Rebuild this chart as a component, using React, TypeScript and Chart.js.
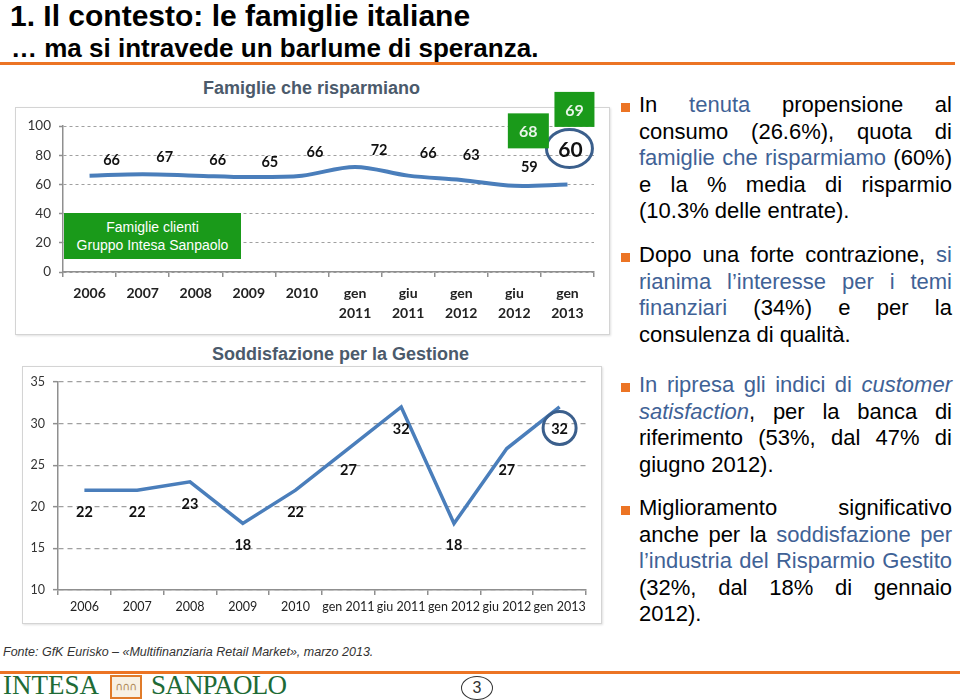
import React, { useEffect, useRef } from "react";
import { Chart, registerables } from "chart.js";

Chart.register(...registerables);

// ---------- DATA ----------
const savingCategories: string[][] = [
  ["2006"], ["2007"], ["2008"], ["2009"], ["2010"],
  ["gen", "2011"], ["giu", "2011"], ["gen", "2012"], ["giu", "2012"], ["gen", "2013"],
];
const savingValues = [66, 67, 66, 65, 66, 72, 66, 63, 59, 60];
const savingTickValues = [0, 20, 40, 60, 80, 100];
const groupClientValues = [68, 69]; // green boxes at giu 2012 and gen 2013

const satisfactionCategories = [
  "2006", "2007", "2008", "2009", "2010",
  "gen 2011", "giu 2011", "gen 2012", "giu 2012", "gen 2013",
];
const satisfactionValues = [22, 22, 23, 18, 22, 27, 32, 18, 27, 32];
const satisfactionTickValues = [10, 15, 20, 25, 30, 35];

// ---------- LAYOUT (label placement, px relative to the point) ----------
const savingLabelOffsets = [
  [22, -16], [22, -18], [22, -16], [21, -16], [13, -24],
  [24, -18], [20, -23], [10, -26], [15, -20], [3, -35],
];
const satisfactionLabelOffsets = satisfactionValues.map(() => [0, 21]);
const groupBoxOffsets = [
  { idx: 8, dx: 14, dy: -55, w: 41, h: 35 },
  { idx: 9, dx: 7, dy: -75, w: 40, h: 35 },
];

const LINE_BLUE = "#4a7ebb";
const CIRCLE_BLUE = "#3b5f8c";
const AXIS_GRAY = "#8f8f8f";
const GRID_GRAY = "#a0a0a0";
const GREEN = "#1a9a1a";
const TEXT_BLUE = "#3f6296";
const ORANGE = "#ec7424";

function makeLabelPlugin(opts: {
  id: string;
  offsets: number[][];
  size: number;
  bigIndex: number;
  bigSize: number;
  circle: { dx: number; dy: number; rx: number; ry: number };
  boxes?: { idx: number; dx: number; dy: number; w: number; h: number }[];
  boxValues?: number[];
}) {
  return {
    id: opts.id,
    afterDatasetsDraw(chart: any) {
      const ctx = chart.ctx;
      const meta = chart.getDatasetMeta(0);
      const values = chart.data.datasets[0].data as number[];
      ctx.save();
      ctx.textAlign = "center";
      ctx.textBaseline = "middle";
      meta.data.forEach((pt: any, i: number) => {
        const [dx, dy] = opts.offsets[i];
        const big = i === opts.bigIndex;
        const x = pt.x + dx;
        const y = pt.y + dy;
        ctx.font = `bold ${big ? opts.bigSize : opts.size}px Lato`;
        ctx.fillStyle = "#111";
        ctx.fillText(String(values[i]), x, y + 1);
        if (big) {
          ctx.strokeStyle = CIRCLE_BLUE;
          ctx.lineWidth = 3;
          ctx.beginPath();
          ctx.ellipse(x + opts.circle.dx, y + opts.circle.dy, opts.circle.rx, opts.circle.ry, 0, 0, Math.PI * 2);
          ctx.stroke();
        }
      });
      if (opts.boxes && opts.boxValues) {
        opts.boxes.forEach((b, k) => {
          const pt = meta.data[b.idx];
          const cx = pt.x + b.dx;
          const cy = pt.y + b.dy;
          ctx.fillStyle = GREEN;
          ctx.fillRect(cx - b.w / 2, cy - b.h / 2, b.w, b.h);
          ctx.fillStyle = "#e8f5e8";
          ctx.font = "bold 16px Lato";
          ctx.fillText(String(opts.boxValues![k]), cx, cy + 1);
        });
      }
      ctx.restore();
    },
  };
}

export default function App() {
  const topRef = useRef<HTMLCanvasElement>(null);
  const botRef = useRef<HTMLCanvasElement>(null);

  useEffect(() => {
    const top = new Chart(topRef.current!, {
      type: "line",
      data: {
        labels: savingCategories as any,
        datasets: [
          {
            data: savingValues,
            borderColor: LINE_BLUE,
            borderWidth: 4,
            pointRadius: 0,
            tension: 0.35,
            fill: false,
          },
        ],
      },
      options: {
        animation: false,
        responsive: false,
        maintainAspectRatio: false,
        layout: { padding: { top: 41, right: 16, left: 0, bottom: 0 } },
        plugins: { legend: { display: false }, tooltip: { enabled: false }, title: { display: false } },
        scales: {
          x: {
            offset: true,
            grid: { offset: true, drawOnChartArea: false, drawTicks: true, tickLength: 5, color: AXIS_GRAY, lineWidth: 1.5 },
            border: { color: AXIS_GRAY, width: 1.5 },
            ticks: {
              color: "#222",
              font: { family: "Lato", weight: "bold", size: 14, lineHeight: 1.4 },
              padding: 7,
              maxRotation: 0,
              autoSkip: false,
            },
            afterFit: (s: any) => { s.height = 63; },
          },
          y: {
            min: savingTickValues[0],
            max: savingTickValues[savingTickValues.length - 1],
            afterBuildTicks: (s: any) => { s.ticks = savingTickValues.map((v) => ({ value: v })); },
            ticks: { color: "#333", font: { family: "Lato", size: 13.5 }, padding: 8 },
            grid: { color: GRID_GRAY, lineWidth: 1, tickLength: 4, tickColor: AXIS_GRAY, tickWidth: 1.5 },
            border: { color: AXIS_GRAY, width: 1.5, dash: [3, 3] },
            afterFit: (s: any) => { s.width = 48; },
          },
        },
      } as any,
      plugins: [
        makeLabelPlugin({
          id: "savingLabels",
          offsets: savingLabelOffsets,
          size: 14.5,
          bigIndex: 9,
          bigSize: 21,
          circle: { dx: -1, dy: -1, rx: 23, ry: 19 },
          boxes: groupBoxOffsets,
          boxValues: groupClientValues,
        }) as any,
      ],
    });

    const bot = new Chart(botRef.current!, {
      type: "line",
      data: {
        labels: satisfactionCategories,
        datasets: [
          {
            data: satisfactionValues,
            borderColor: LINE_BLUE,
            borderWidth: 3.5,
            pointRadius: 0,
            tension: 0,
            fill: false,
          },
        ],
      },
      options: {
        animation: false,
        responsive: false,
        maintainAspectRatio: false,
        layout: { padding: { top: 16, right: 16, left: 0, bottom: 0 } },
        plugins: { legend: { display: false }, tooltip: { enabled: false }, title: { display: false } },
        scales: {
          x: {
            offset: true,
            grid: { offset: true, drawOnChartArea: false, drawTicks: true, tickLength: 5, color: AXIS_GRAY, lineWidth: 1.5 },
            border: { color: AXIS_GRAY, width: 1.5 },
            ticks: {
              color: "#222",
              font: { family: "Lato", size: 12.5, lineHeight: 1.2 },
              padding: 4,
              maxRotation: 0,
              autoSkip: false,
            },
            afterFit: (s: any) => { s.height = 34; },
          },
          y: {
            min: satisfactionTickValues[0],
            max: satisfactionTickValues[satisfactionTickValues.length - 1],
            afterBuildTicks: (s: any) => { s.ticks = satisfactionTickValues.map((v) => ({ value: v })); },
            ticks: { color: "#333", font: { family: "Lato", size: 12.5 }, padding: 8 },
            grid: { color: GRID_GRAY, lineWidth: 1.3, tickLength: 5, tickColor: AXIS_GRAY, tickWidth: 1.5 },
            border: { color: AXIS_GRAY, width: 1.5, dash: [5, 4] },
            afterFit: (s: any) => { s.width = 36; },
          },
        },
      } as any,
      plugins: [
        makeLabelPlugin({
          id: "satLabels",
          offsets: satisfactionLabelOffsets,
          size: 14.5,
          bigIndex: 9,
          bigSize: 14.5,
          circle: { dx: 0, dy: 0, rx: 16.5, ry: 16.5 },
        }) as any,
      ],
    });

    return () => {
      top.destroy();
      bot.destroy();
    };
  }, []);

  const abs = (s: React.CSSProperties): React.CSSProperties => ({ position: "absolute", ...s });
  const blue = (t: React.ReactNode) => <span style={{ color: TEXT_BLUE }}>{t}</span>;
  const para: React.CSSProperties = {
    position: "absolute",
    left: 639,
    width: 313,
    fontSize: 22,
    lineHeight: "26.6px",
    textAlign: "justify",
    color: "#000",
  };
  const bullet = (top: number) => (
    <div style={abs({ left: 621, top, width: 9, height: 9, background: ORANGE })} />
  );

  return (
    <div
      style={{
        position: "absolute",
        left: 0,
        top: 0,
        width: 960,
        height: 700,
        background: "#fff",
        overflow: "hidden",
        fontFamily: '"Liberation Sans", Arial, sans-serif',
      }}
    >
      {/* Slide title */}
      <div style={abs({ left: 10, top: 0, fontSize: 30, fontWeight: "bold", lineHeight: "32px", whiteSpace: "nowrap" })}>
        1. Il contesto: le famiglie italiane
      </div>
      <div style={abs({ left: 11, top: 35, fontSize: 26, fontWeight: "bold", lineHeight: "26px", whiteSpace: "nowrap" })}>
        … ma si intravede un barlume di speranza.
      </div>
      <div style={abs({ left: 0, top: 62, width: 955, height: 3, background: ORANGE })} />

      {/* Top chart */}
      <div style={abs({ left: 203, top: 78, fontSize: 18, fontWeight: "bold", color: "#4b5a6b", lineHeight: "20px", whiteSpace: "nowrap" })}>
        Famiglie che risparmiano
      </div>
      <div style={abs({ left: 15, top: 107, width: 593, height: 226, border: "1px solid #d4d4d4", boxShadow: "1px 1px 2px rgba(0,0,0,0.12)" })} />
      <canvas ref={topRef} width={595} height={250} style={abs({ left: 15, top: 85, width: 595, height: 250 })} />
      <div
        style={abs({
          left: 64, top: 213, width: 177, height: 46, background: GREEN, color: "#fff",
          fontSize: 14, lineHeight: "17.5px", textAlign: "center", paddingTop: 6, boxSizing: "border-box",
        })}
      >
        Famiglie clienti
        <br />
        Gruppo Intesa Sanpaolo
      </div>

      {/* Bottom chart */}
      <div style={abs({ left: 212, top: 344, fontSize: 18, fontWeight: "bold", color: "#4b5a6b", lineHeight: "20px", whiteSpace: "nowrap" })}>
        Soddisfazione per la Gestione
      </div>
      <div style={abs({ left: 22, top: 366, width: 578, height: 256, border: "1px solid #d4d4d4", boxShadow: "1px 1px 2px rgba(0,0,0,0.12)" })} />
      <canvas ref={botRef} width={580} height={258} style={abs({ left: 22, top: 366, width: 580, height: 258 })} />

      {/* Right text */}
      {bullet(103)}
      <div style={{ ...para, top: 92 }}>
        In {blue("tenuta")} propensione al consumo (26.6%), quota di {blue("famiglie che risparmiamo")} (60%) e la % media di
        risparmio (10.3% delle entrate).
      </div>
      {bullet(253)}
      <div style={{ ...para, top: 242 }}>
        Dopo una forte contrazione, {blue("si rianima l’interesse per i temi finanziari")} (34%) e per la consulenza di qualità.
      </div>
      {bullet(383)}
      <div style={{ ...para, top: 372 }}>
        {blue(<>In ripresa gli indici di <i>customer satisfaction</i></>)}, per la banca di riferimento (53%, dal 47% di
        giugno 2012).
      </div>
      {bullet(506)}
      <div style={{ ...para, top: 495 }}>
        Miglioramento significativo anche per la {blue("soddisfazione per l’industria del Risparmio Gestito")} (32%, dal
        18% di gennaio 2012).
      </div>

      {/* Footer */}
      <div style={abs({ left: 3, top: 644, fontSize: 12.5, fontStyle: "italic", color: "#333", lineHeight: "16px", whiteSpace: "nowrap" })}>
        Fonte: GfK Eurisko – «Multifinanziaria Retail Market», marzo 2013.
      </div>
      <div style={abs({ left: 0, top: 671, width: 960, height: 3, background: ORANGE })} />
      <div style={abs({ left: 3, top: 672, fontSize: 27, lineHeight: "27px", color: "#1e6b36", fontFamily: '"Liberation Serif", serif', whiteSpace: "nowrap" })}>
        INTESA
      </div>
      <div
        style={abs({
          left: 110, top: 675, width: 32, height: 24, border: "2px solid #e07b2a", background: "#f8f1e4",
          boxSizing: "border-box", color: "#b08a5a", fontSize: 11, lineHeight: "20px", textAlign: "center",
          fontFamily: '"DejaVu Sans", sans-serif', letterSpacing: -1,
        })}
      >
        ∩∩∩
      </div>
      <div
        style={abs({
          left: 151, top: 672, fontSize: 27, lineHeight: "27px", color: "#1e6b36",
          fontFamily: '"Liberation Serif", serif', letterSpacing: -0.8, whiteSpace: "nowrap",
        })}
      >
        SANPAOLO
      </div>
      <div
        style={abs({
          left: 461, top: 676, width: 32, height: 24, border: "1px solid #333", borderRadius: "50%",
          boxSizing: "border-box", textAlign: "center", fontSize: 16, lineHeight: "22px", color: "#333",
        })}
      >
        3
      </div>
    </div>
  );
}
